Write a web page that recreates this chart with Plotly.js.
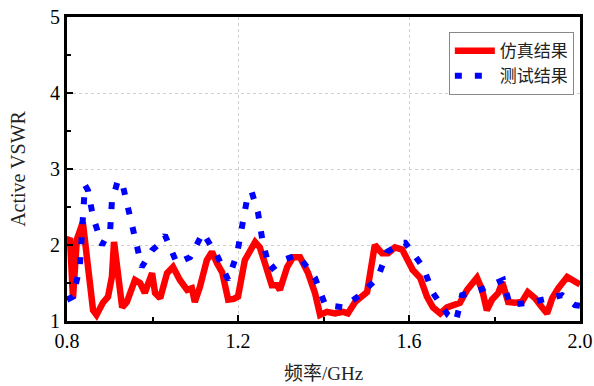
<!DOCTYPE html>
<html>
<head>
<meta charset="utf-8">
<script src="https://cdn.plot.ly/plotly-3.0.1.min.js"></script>
<style>html,body{margin:0;padding:0;background:#fff}#chart{width:594px;height:386px}</style>
</head>
<body>
<div id="chart"></div>
<script>
const simFreq = [0.80,0.807,0.814,0.823,0.837,0.850,0.861,0.869,0.884,0.896,0.905,0.910,0.920,0.929,0.940,0.959,0.971,0.982,0.999,1.006,1.018,1.034,1.048,1.064,1.081,1.092,1.099,1.111,1.127,1.139,1.151,1.163,1.177,1.190,1.200,1.216,1.240,1.251,1.263,1.279,1.291,1.298,1.315,1.329,1.345,1.364,1.380,1.392,1.408,1.427,1.446,1.457,1.474,1.502,1.520,1.537,1.551,1.567,1.584,1.595,1.609,1.626,1.642,1.656,1.673,1.689,1.703,1.719,1.736,1.759,1.771,1.782,1.794,1.809,1.818,1.832,1.848,1.864,1.878,1.895,1.911,1.923,1.935,1.949,1.970,1.984,2.00];
const simVSWR = [2.05,2.09,1.30,2.07,2.30,1.75,1.14,1.08,1.24,1.32,1.58,2.04,1.55,1.18,1.25,1.54,1.50,1.37,1.63,1.37,1.30,1.63,1.71,1.54,1.41,1.43,1.25,1.45,1.80,1.91,1.76,1.64,1.28,1.29,1.32,1.80,2.04,1.97,1.76,1.47,1.47,1.41,1.71,1.84,1.84,1.63,1.37,1.08,1.12,1.10,1.12,1.10,1.25,1.38,2.00,1.89,1.89,1.97,1.94,1.80,1.67,1.57,1.32,1.18,1.10,1.18,1.21,1.24,1.41,1.57,1.41,1.14,1.28,1.37,1.51,1.25,1.24,1.25,1.38,1.30,1.18,1.10,1.30,1.43,1.58,1.54,1.48];
const measFreq = [0.80,0.814,0.830,0.837,0.842,0.849,0.861,0.882,0.901,0.905,0.919,0.929,0.943,0.959,0.975,0.999,1.013,1.029,1.057,1.088,1.118,1.153,1.177,1.198,1.209,1.223,1.232,1.247,1.258,1.275,1.303,1.340,1.380,1.404,1.446,1.485,1.527,1.549,1.586,1.591,1.633,1.656,1.691,1.710,1.724,1.766,1.820,1.836,1.890,1.958,1.988,2.00];
const measVSWR = [1.28,1.32,1.71,2.49,2.79,2.72,2.37,2.00,2.20,2.57,2.85,2.82,2.46,2.09,1.71,1.93,2.00,2.13,1.76,1.84,2.16,1.84,1.54,1.89,2.26,2.66,2.70,2.42,2.03,1.67,1.80,1.87,1.57,1.21,1.18,1.34,1.57,1.91,2.03,2.03,1.71,1.37,1.08,1.00,1.34,1.41,1.54,1.21,1.25,1.34,1.21,1.20];
const xTicks = [0.8,1.2,1.6,2.0];
const xTickText = ['0.8','1.2','1.6','2.0'];
const yTicks = [1,2,3,4,5];

const serif = 'Liberation Serif';
const cjk = 'Noto Sans CJK SC';
const data = [
  {x: simFreq, y: simVSWR, mode:'lines', name:'仿真结果',
   line:{color:'#ff0000', width:6.5}},
  {x: measFreq, y: measVSWR, mode:'lines', name:'测试结果',
   line:{color:'#0000ff', width:6, dash:'7px,13px'}}
];
const layout = {
  width:594, height:386,
  margin:{l:67, r:14, t:17, b:65},
  paper_bgcolor:'#fff', plot_bgcolor:'#fff',
  showlegend:true,
  legend:{x:0.988, y:0.95, xanchor:'right', yanchor:'top',
    bgcolor:'#fff', bordercolor:'#888', borderwidth:1,
    font:{family:cjk, size:17, color:'#222'},
    tracegroupgap:0, itemwidth:40},
  xaxis:{range:[0.8,2.0], tickvals:xTicks, ticktext:xTickText,
    ticks:'inside', ticklen:6, tickwidth:2, tickcolor:'#000',
    minor:{dtick:0.2, tick0:0.8, ticks:'inside', ticklen:4, tickwidth:2, tickcolor:'#000', showgrid:false},
    showline:true, linewidth:3, linecolor:'#000', mirror:true,
    showgrid:true, gridcolor:'#d0d0d0', griddash:'dot', gridwidth:1,
    zeroline:false,
    tickfont:{family:serif, size:20, color:'#000'},
    title:{text:'<span style="font-family:Noto Sans CJK SC">频率</span>/GHz', font:{family:serif, size:19, color:'#222'}, standoff:16}},
  yaxis:{range:[1,5], tickvals:yTicks,
    ticks:'inside', ticklen:6, tickwidth:2, tickcolor:'#000',
    minor:{dtick:0.5, tick0:1, ticks:'inside', ticklen:4, tickwidth:2, tickcolor:'#000', showgrid:false},
    showline:true, linewidth:3, linecolor:'#000', mirror:true,
    showgrid:true, gridcolor:'#d0d0d0', griddash:'dot', gridwidth:1,
    zeroline:false,
    tickfont:{family:serif, size:20, color:'#000'},
    title:{text:'Active VSWR', font:{family:serif, size:20, color:'#222'}, standoff:20}}
};
Plotly.newPlot('chart', data, layout, {displayModeBar:false, staticPlot:true});
</script>
</body>
</html>
